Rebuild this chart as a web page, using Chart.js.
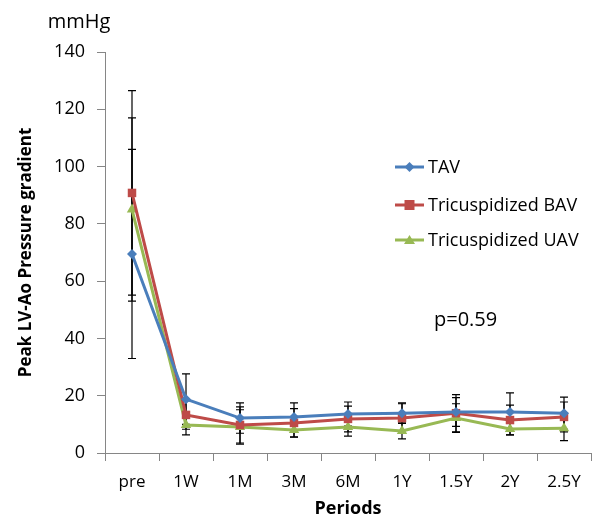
<!DOCTYPE html>
<html><head><meta charset="utf-8">
<script src="https://cdn.jsdelivr.net/npm/chart.js@4.4.1/dist/chart.umd.min.js"></script>
<style>html,body{margin:0;padding:0;background:#fff}#wrap{width:597px;height:524px;position:relative}</style>
</head><body><div id="wrap"><canvas id="c"></canvas></div>
<script>
const categories = ['pre','1W','1M','3M','6M','1Y','1.5Y','2Y','2.5Y'];
const tavValues = [69.5, 18.8, 12.2, 12.6, 13.6, 13.9, 14.3, 14.3, 13.9];
const bavValues = [90.8, 13.3, 9.8, 10.5, 11.9, 12.2, 13.9, 11.5, 12.6];
const uavValues = [85.0, 9.8, 9.1, 8.0, 9.1, 7.7, 12.2, 8.4, 8.6];
const tavErr = [36.5, 8.8, 5.3, 4.9, 4.2, 3.6, 5.0, 6.7, 5.6];
const bavErr = [35.7, 5.0, 6.3, 5.0, 4.5, 5.0, 6.5, 5.2, 5.2];
const uavErr = [32.0, 3.5, 6.0, 2.4, 3.2, 2.8, 5.0, 2.1, 4.3];
const yTicks = [0,20,40,60,80,100,120,140];
const seriesNames = ['TAV','Tricuspidized BAV','Tricuspidized UAV'];
const FONT = '"Open Sans", sans-serif';

const errorBars = {
  id:'errorBars',
  beforeDatasetsDraw(chart){
    const ctx = chart.ctx, y = chart.scales.y;
    ctx.save();
    ctx.strokeStyle = '#000'; ctx.lineWidth = 1.2;
    chart.data.datasets.forEach((ds,i)=>{
      const meta = chart.getDatasetMeta(i);
      ds.err.forEach((e,j)=>{
        const px = meta.data[j].x;
        const top = y.getPixelForValue(ds.data[j]+e);
        const bot = y.getPixelForValue(ds.data[j]-e);
        ctx.beginPath();
        ctx.moveTo(px,top); ctx.lineTo(px,bot);
        ctx.moveTo(px-4,top); ctx.lineTo(px+4,top);
        ctx.moveTo(px-4,bot); ctx.lineTo(px+4,bot);
        ctx.stroke();
      });
    });
    ctx.restore();
  }
};

const extras = {
  id:'extras',
  afterDraw(chart){
    const ctx = chart.ctx;
    ctx.save();
    ctx.fillStyle = '#000';
    ctx.font = '20px '+FONT;
    ctx.textAlign='center'; ctx.textBaseline='middle';
    ctx.fillText('mmHg', 79, 22);
    const ys = [167, 205, 240];
    chart.data.datasets.forEach((ds,i)=>{
      ctx.strokeStyle = ds.borderColor; ctx.lineWidth = 3;
      ctx.beginPath(); ctx.moveTo(395, ys[i]); ctx.lineTo(424, ys[i]); ctx.stroke();
      ctx.fillStyle = ds.backgroundColor;
      const cx = 409.5, cy = ys[i];
      ctx.beginPath();
      if(i===0){ ctx.moveTo(cx,cy-5); ctx.lineTo(cx+5,cy); ctx.lineTo(cx,cy+5); ctx.lineTo(cx-5,cy); }
      else if(i===1){ ctx.rect(cx-5,cy-5,10,10); }
      else { ctx.moveTo(cx,cy-5); ctx.lineTo(cx+5.5,cy+4); ctx.lineTo(cx-5.5,cy+4); }
      ctx.closePath(); ctx.fill();
      ctx.fillStyle = '#000'; ctx.font = '18px '+FONT;
      ctx.textAlign='left';
      ctx.fillText(ds.label, 428, ys[i]+1);
    });
    ctx.font = '20px '+FONT;
    ctx.textAlign='left';
    ctx.fillText('p=0.59', 434, 320);
    ctx.restore();
  }
};

new Chart(document.getElementById('c'), {
  type:'line',
  data:{
    labels: categories,
    datasets:[
      {label:seriesNames[0], data:tavValues, err:tavErr, borderColor:'#4a7ebb', backgroundColor:'#4a7ebb', borderWidth:3, pointStyle:'rectRot', pointRadius:5, pointBorderWidth:0, tension:0},
      {label:seriesNames[1], data:bavValues, err:bavErr, borderColor:'#be4b48', backgroundColor:'#be4b48', borderWidth:3, pointStyle:'rect', pointRadius:6, pointBorderWidth:0, tension:0},
      {label:seriesNames[2], data:uavValues, err:uavErr, borderColor:'#98b954', backgroundColor:'#98b954', borderWidth:3, pointStyle:'triangle', pointRadius:6, pointBorderWidth:0, tension:0}
    ]
  },
  options:{
    responsive:true, maintainAspectRatio:false, animation:false,
    layout:{padding:{left:12, right:2, top:52, bottom:0}},
    plugins:{legend:{display:false}, tooltip:{enabled:false}},
    scales:{
      x:{
        offset:true,
        grid:{display:true, drawOnChartArea:false, drawTicks:true, tickLength:8, color:'#868686', offset:true},
        border:{display:true, color:'#868686', width:1},
        ticks:{color:'#000', font:{size:17, family:FONT}, padding:11, maxRotation:0},
        title:{display:true, text:'Periods', color:'#000', font:{size:18, weight:'bold', family:FONT}, padding:{top:0}},
        afterFit(s){ s.height = 71; }
      },
      y:{
        min:0, max:140,
        afterBuildTicks(s){ s.ticks = yTicks.map(v=>({value:v})); },
        grid:{display:true, drawOnChartArea:false, drawTicks:true, tickLength:8, color:'#868686'},
        border:{display:true, color:'#868686', width:1},
        ticks:{color:'#000', font:{size:18, family:FONT}, padding:12},
        title:{display:true, text:'Peak LV-Ao Pressure gradient', color:'#000', font:{size:17, weight:'bold', family:FONT}, padding:{bottom:0}},
        afterFit(s){ s.width = 93; }
      }
    }
  },
  plugins:[errorBars, extras]
});
</script></body></html>
